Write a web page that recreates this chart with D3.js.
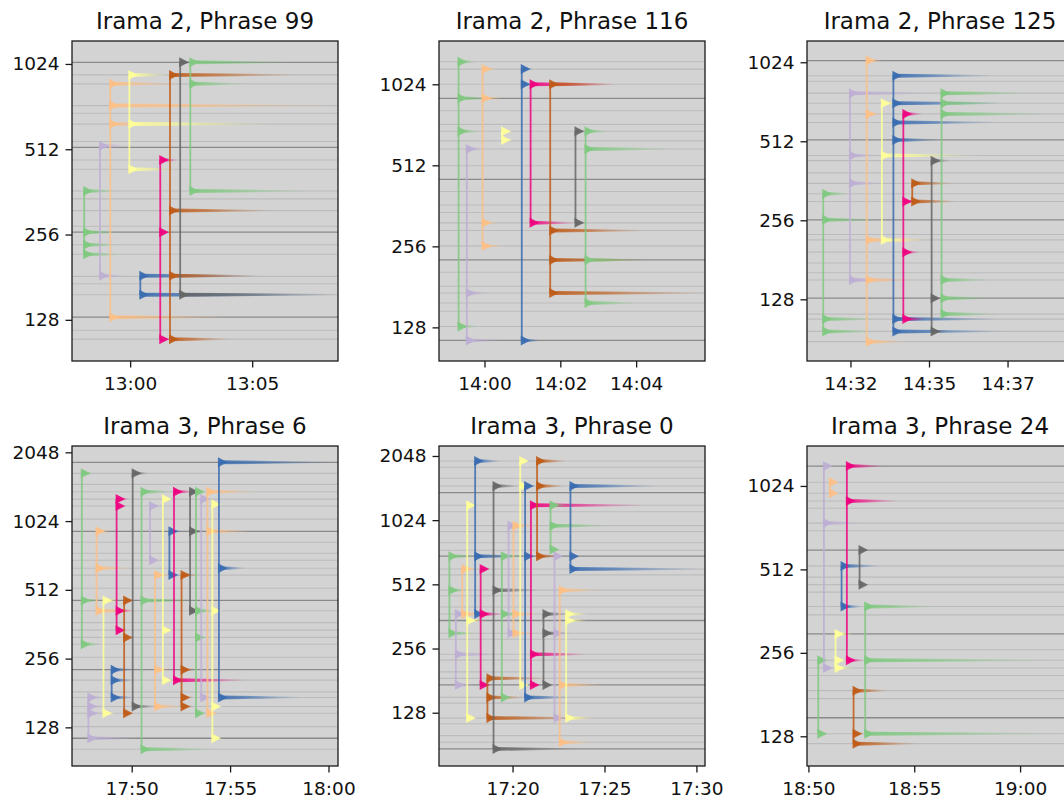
<!DOCTYPE html>
<html><head><meta charset="utf-8">
<script src="https://cdn.jsdelivr.net/npm/d3@7"></script>
<style>body{margin:0;background:#fff;} svg{display:block;font-family:"DejaVu Sans",sans-serif;}</style>
</head><body><svg id="chart" width="1064" height="801"></svg>
<script>
// ---------------- data ----------------
const titles = ["Irama 2, Phrase 99","Irama 2, Phrase 116","Irama 2, Phrase 125",
                "Irama 3, Phrase 6","Irama 3, Phrase 0","Irama 3, Phrase 24"];
const xStart = ["12:57:37","13:58:48","14:31:07","17:46:58","17:16:00","18:49:56"];
const xEnd   = ["13:08:31","14:05:49","14:39:35","18:00:29","17:30:28","19:02:30"];
const xTicks = [["13:00:00","13:05:00"],["14:00:00","14:02:00","14:04:00"],["14:32:30","14:35:00","14:37:30"],
                ["17:50:00","17:55:00","18:00:00"],["17:20:00","17:25:00","17:30:00"],["18:50:00","18:55:00","19:00:00"]];
const yMin = [91.6, 96, 74.5, 86.7, 72, 100];
const yMax = [1234, 1483, 1234, 2183, 2281, 1427];
const yTicks = [[128,256,512,1024],[128,256,512,1024],[128,256,512,1024],
                [128,256,512,1024,2048],[128,256,512,1024,2048],[128,256,512,1024]];

// reference pitch lines (Hz) and the darker "tonic" lines
const lines99  = [1038,937,871,730,686,628,545,520,469,435,364.6,342,311,274,261,235.6,218,182.2,171.6,157,130.8,117.6,109.4];
const dark99   = [1038,520,261,130.8];
const lines116 = [1242,1166,1024,908,817,727,685,631,589,510,454,409,364.6,342,313,293,257,228,205,182,171.7,157.7,147,129,114.5];
const dark116  = [908,454,228,114.5];
const lines125 = [1039,910,867,781,715,651,604,518,452,432,388,354,323,302,257,226,215.5,193.6,176,161.5,151.7,129.3,112.4,107.6,96.6,88.3];
const dark125  = [1039,518,257,129.3];
const lines6   = [1851,1657,1483,1377,1278,1192,1044,924,827,740,690,637,594,520,460,415,368,341,317,296,259.7,229,206,183,173,158,147.5,128.9,114.7,102.6];
const dark6    = [1851,924,460,229,114.7];
const lines0   = [1939,1813,1610,1481,1379,1202,1122,965,905,803,740,694,604,567,481,452.6,401,371.6,346.5,302,283,240.6,226,199,185.5,172.9,151,142,120.8,113.7,100,93,86.6];
const dark0    = [1379,694,346.5,172.9,86.6];
const lines24  = [1208,1056,964,904,851,752,706,601,527,480,451,424,376,351,299.5,262.7,240.6,225.8,212,187,175,149.3,130.8,120.4];
const dark24   = [1208,601,299.5,149.3];

// note groups: [onset time, pitches (Hz), decay length of each pitch (minutes)]
const notes99 = [
  ["12:58:07",[364.6,261,235.6,218],[1.4,1.5,1.5,1.5]],
  ["12:58:46",[526,183],[1.1,1.1]],
  ["12:59:11",[871,730,628,130.8],[3,9.5,2,5]],
  ["12:59:58",[937,628,435],[1.7,5.9,2]],
  ["13:00:25",[183,157],[4.9,8.1]],
  ["13:01:14",[469,261,109.4],[0.7,0.4,0.5]],
  ["13:01:38",[937,311,183,109.4],[5.3,4.2,3.7,2.5]],
  ["13:02:03",[1038,157],[0.5,6.5]],
  ["13:02:28",[1038,871,364.6],[4.2,2.2,5]]
];
const notes116 = [
  ["13:59:19",[1242,908,685,129],[0.5,0.9,0.6,0.5]],
  ["13:59:32",[589,171.7,114.5],[0.5,0.6,0.9]],
  ["13:59:57",[1166,908,313,257],[0.4,0.5,0.4,0.5]],
  ["14:00:28",[685,636],[0.3,0.3]],
  ["14:00:59",[1166,1024,114.5],[0.3,0.3,0.5]],
  ["14:01:13",[1024,313],[2.2,1.2]],
  ["14:01:44",[1024,293,228,171.7],[1.7,2.6,2.5,4.2]],
  ["14:02:24",[685,313],[0.3,0.3]],
  ["14:02:40",[685,589,228,157.7],[0.6,2.3,1.5,1.4]]
];
const notes125 = [
  ["14:31:38",[323,257,107.6,96.6],[0.85,1.7,1.7,1.7]],
  ["14:32:29",[781,452,354,151.7],[2.9,1,1.1,2]],
  ["14:33:01",[1039,651,215.5,151.7,88.3],[0.5,0.5,2,1.5,1.3]],
  ["14:33:30",[715,452,215.5],[0.5,3.1,1.4]],
  ["14:33:52",[910,715,604,518,107.6,96.6],[3.2,3.4,3.4,1.5,3.4,3.6]],
  ["14:34:11",[651,302,193.6,107.6],[0.6,0.5,0.5,0.7]],
  ["14:34:28",[354,302],[1.3,1.4]],
  ["14:35:05",[432,129.3,96.6],[0.6,0.3,0.5]],
  ["14:35:24",[781,715,651,151.7,129.3,112.4],[2.8,1.9,3.4,1.5,1.6,1.8]]
];
const notes6 = [
  ["17:47:28",[1657,460,296],[0.6,1,1]],
  ["17:47:48",[173,158,147.5,114.7],[0.8,0.8,0.8,2.5]],
  ["17:48:13",[924,637,415],[0.7,1.7,2.2]],
  ["17:48:34",[460,147.5],[0.8,0.6]],
  ["17:48:59",[229,206,173],[1.1,1.1,1.1]],
  ["17:49:14",[1278,1192,415,341],[0.6,0.5,0.8,0.5]],
  ["17:49:37",[460,317,147.5],[0.5,0.5,0.5]],
  ["17:50:03",[1657,158],[0.8,1.2]],
  ["17:50:30",[1377,460,102.6],[1.6,2.8,3.8]],
  ["17:50:56",[1192,690],[0.6,0.6]],
  ["17:51:11",[594,229,158],[0.8,0.8,1.5]],
  ["17:51:35",[1278,341,206],[0.5,0.5,0.5]],
  ["17:51:55",[924,594],[0.6,0.6]],
  ["17:52:09",[1377,206],[1,3.7]],
  ["17:52:32",[594,229,173,158],[0.8,0.7,0.6,0.6]],
  ["17:52:58",[1377,924,415],[0.4,0.8,0.8]],
  ["17:53:16",[1377,415,317,147.5],[0.5,1,0.5,0.5]],
  ["17:53:32",[1278,173],[0.5,0.5]],
  ["17:53:51",[1377,924,147.5],[2.5,2.2,0.6]],
  ["17:54:06",[1212,415,158,114.7],[0.5,0.5,0.5,0.5]],
  ["17:54:26",[1851,637,173],[5.8,1.3,4.3]]
];
const notes0 = [
  ["17:16:34",[694,481,302],[1.5,1,1.5]],
  ["17:16:55",[371.6,240.6,172.9],[1,2.5,1]],
  ["17:17:16",[604,371.6],[1,1.5]],
  ["17:17:32",[1202,346.5,120.8],[0.5,1,0.5]],
  ["17:17:58",[1939,694,371.6],[1.4,2.8,0.5]],
  ["17:18:16",[604,371.6,172.9],[0.5,1.2,0.6]],
  ["17:18:38",[185.5,151,120.8],[3.1,2,5.8]],
  ["17:18:58",[1481,481,86.6],[1.4,2.5,4.5]],
  ["17:19:25",[694,371.6,151],[1.2,1.2,0.6]],
  ["17:19:47",[965,302],[0.4,0.6]],
  ["17:20:03",[965,371.6,302],[1.3,1.5,1.2]],
  ["17:20:25",[1939,1481,172.9],[0.4,0.4,0.3]],
  ["17:20:41",[1481,694,151],[0.6,0.6,2.5]],
  ["17:21:00",[1202,240.6,172.9],[6.3,3,0.5]],
  ["17:21:20",[1939,1481,694],[1.6,1.5,1.2]],
  ["17:21:41",[371.6,302,172.9],[1.4,1.5,0.5]],
  ["17:22:04",[1202,965,745],[1,3.3,0.5]],
  ["17:22:17",[694,302,120.8],[0.5,0.5,0.5]],
  ["17:22:34",[481,172.9,93],[2.2,2.4,1.8]],
  ["17:22:55",[371.6,346.5,120.8],[1.2,1.2,1.5]],
  ["17:23:09",[1481,694,604],[4.9,0.5,7.3]]
];
const notes24 = [
  ["18:50:28",[240.6,130.8],[0.5,0.5]],
  ["18:50:44",[1208,752,225.8],[0.5,1.9,0.5]],
  ["18:51:01",[1056,964],[0.2,0.2]],
  ["18:51:17",[299.5,240.6,225.8],[0.8,0.5,0.8]],
  ["18:51:34",[527,376],[1.8,1]],
  ["18:51:49",[1208,904,240.6],[1.7,2.4,0.8]],
  ["18:52:08",[187,130.8,120.4],[1.6,0.5,3.1]],
  ["18:52:25",[601,451],[0.3,0.3]],
  ["18:52:41",[376,240.6,130.8],[3.5,9,9.4]]
];

const allLines = [lines99, lines116, lines125, lines6, lines0, lines24];
const allDark  = [dark99, dark116, dark125, dark6, dark0, dark24];
const allNotes = [notes99, notes116, notes125, notes6, notes0, notes24];

// ---------------- drawing ----------------
const colors = d3.schemeAccent;
const parse = s => { const [h,m,sec] = s.split(":").map(Number); return new Date(2000,0,1,h,m,sec||0); };
const addMin = (d, m) => new Date(d.getTime() + m*60000);

const svg = d3.select("#chart");
const defs = svg.append("defs");
colors.forEach((c,i) => {
  const g = defs.append("linearGradient").attr("id","fade"+i)
    .attr("x1",0).attr("x2",1).attr("y1",0).attr("y2",0);
  g.append("stop").attr("offset",0).attr("stop-color",c).attr("stop-opacity",0.9);
  g.append("stop").attr("offset",0.35).attr("stop-color",c).attr("stop-opacity",0.65);
  g.append("stop").attr("offset",0.7).attr("stop-color",c).attr("stop-opacity",0.25);
  g.append("stop").attr("offset",1).attr("stop-color",c).attr("stop-opacity",0);
});

const lefts = [72, 439, 807], tops = [41, 446];
const PW = 266, PH = 320;
const tickFont = 18.5, titleFont = 23;

allNotes.forEach((notes, i) => {
  const L = lefts[i % 3], T = tops[Math.floor(i / 3)];
  const x = d3.scaleTime().domain([parse(xStart[i]), parse(xEnd[i])]).range([L, L + PW]);
  const y = d3.scaleLog().base(2).domain([yMin[i], yMax[i]]).range([T + PH, T]);

  const clipId = "clip" + i;
  defs.append("clipPath").attr("id", clipId).append("rect")
    .attr("x", L).attr("y", T).attr("width", PW).attr("height", PH);

  const g = svg.append("g");
  g.append("rect").attr("x", L).attr("y", T).attr("width", PW).attr("height", PH).attr("fill", "#d3d3d3");

  const plot = g.append("g").attr("clip-path", `url(#${clipId})`);
  const darkSet = new Set(allDark[i]);
  plot.selectAll("line.ref").data(allLines[i]).join("line").attr("class","ref")
    .attr("x1", L).attr("x2", L + PW)
    .attr("y1", d => y(d)).attr("y2", d => y(d))
    .attr("stroke", d => darkSet.has(d) ? "#8a8a8a" : "#bcbcbc")
    .attr("stroke-width", d => darkSet.has(d) ? 1.3 : 1.1);

  notes.forEach((nt, j) => {
    const t0 = parse(nt[0]);
    const x0 = x(t0);
    const ci = j % 8, col = colors[ci];
    const grp = plot.append("g");
    // decaying tails
    nt[1].forEach((f, k) => {
      const x1 = x(addMin(t0, nt[2][k]));
      const yy = y(f);
      grp.append("polygon")
        .attr("points", `${x0},${yy-2} ${x1},${yy-0.6} ${x1},${yy+0.6} ${x0},${yy+2}`)
        .attr("fill", `url(#fade${ci})`);
    });
    // vertical connector
    const ext = d3.extent(nt[1]);
    grp.append("line").attr("x1", x0).attr("x2", x0)
      .attr("y1", y(ext[0])).attr("y2", y(ext[1]))
      .attr("stroke", col).attr("stroke-width", 1.8).attr("stroke-opacity", 0.85);
    // onset markers
    grp.selectAll("path.mk").data(nt[1]).join("path").attr("class","mk")
      .attr("d", f => { const yy = y(f); return `M${x0-1},${yy-5}L${x0+8.5},${yy}L${x0-1},${yy+5}Z`; })
      .attr("fill", col).attr("fill-opacity", 0.9);
  });

  // spines
  g.append("rect").attr("x", L).attr("y", T).attr("width", PW).attr("height", PH)
    .attr("fill", "none").attr("stroke", "#1a1a1a").attr("stroke-width", 1.3);

  // axes
  const ya = g.append("g").attr("transform", `translate(${L},0)`)
    .call(d3.axisLeft(y).tickValues(yTicks[i]).tickFormat(d3.format("d")).tickSize(6.5).tickSizeOuter(0).tickPadding(6));
  const xa = g.append("g").attr("transform", `translate(0,${T + PH})`)
    .call(d3.axisBottom(x).tickValues(xTicks[i].map(parse)).tickFormat(d3.timeFormat("%H:%M")).tickSize(6.5).tickSizeOuter(0).tickPadding(9));
  [ya, xa].forEach(a => {
    a.select(".domain").remove();
    a.selectAll(".tick line").attr("stroke", "#1a1a1a").attr("stroke-width", 1.3);
    a.selectAll(".tick text").attr("fill", "#111").style("font-size", tickFont + "px")
      .style("font-family", '"DejaVu Sans", sans-serif');
  });

  g.append("text").attr("x", L + PW / 2).attr("y", T - 12)
    .attr("text-anchor", "middle").attr("fill", "#111")
    .style("font-size", titleFont + "px").text(titles[i]);
});
</script>
</body></html>
